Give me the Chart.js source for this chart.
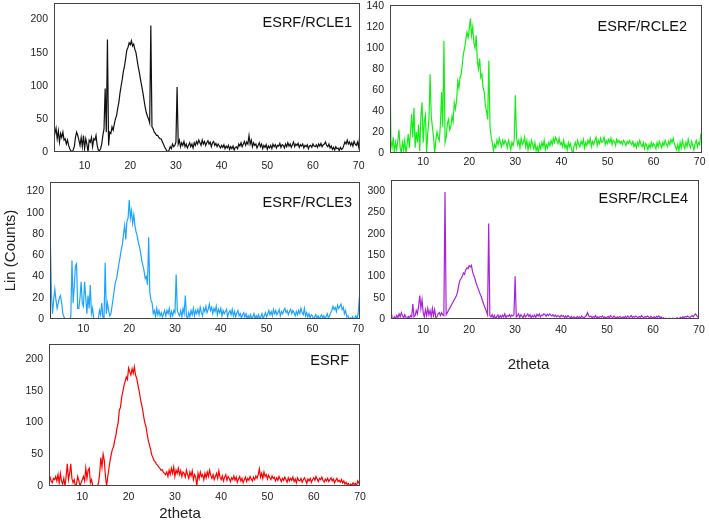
<!DOCTYPE html>
<html>
<head>
<meta charset="utf-8">
<script src="https://cdn.jsdelivr.net/npm/chart.js@4.4.1/dist/chart.umd.min.js"></script>
<style>
  html, body { margin: 0; padding: 0; background: #fff; overflow: hidden; }
  #wrap { position: relative; width: 709px; height: 520px; }
  #wrap canvas { position: absolute; }
</style>
</head>
<body>
<div id="wrap">
  <canvas id="rcle1" width="365" height="172" style="left:0;top:0"></canvas>
  <canvas id="rcle2" width="351" height="172" style="left:358px;top:0"></canvas>
  <canvas id="rcle3" width="365" height="165" style="left:0;top:172px"></canvas>
  <canvas id="rcle4" width="351" height="202" style="left:358px;top:172px"></canvas>
  <canvas id="esrf" width="372" height="190" style="left:0;top:335px"></canvas>
</div>
<script>
'use strict';

const thetaStart = 2;
const thetaStep = 0.25;
const xTicks = [10, 20, 30, 40, 50, 60, 70];

const rcle1Ticks = [0, 50, 100, 150, 200];
const rcle2Ticks = [0, 20, 40, 60, 80, 100, 120, 140];
const rcle3Ticks = [0, 20, 40, 60, 80, 100, 120];
const rcle4Ticks = [0, 50, 100, 150, 200, 250, 300];
const esrfTicks = [0, 50, 100, 150, 200];

// one row = 1 degree (x.00, x.25, x.50, x.75)
const rcle1Counts = [
    35, 35, 35, 35,  35, 35, 28, 36,  20, 32, 15, 28,  22, 30, 18, 20,  12, 18, 10, 5,       // 2-6
    2, 0, 3, 8,  22, 30, 25, 18,  10, 22, 8, 25,  5, 20, 12, 0,  18, 15, 22, 8,              // 7-11
    20, 18, 25, 10,  3, 2, 5, 12,  25, 35, 96, 30,  170, 10, 30, 28,  38, 33, 42, 50,        // 12-16
    55, 66, 75, 89,  100, 110, 122, 130,  142, 154, 158, 165,  162, 168, 160, 163,  155, 150, 139, 128, // 17-21
    120, 109, 100, 90,  79, 68, 60, 54,  50, 44, 191, 38,  35, 30, 28, 25,  25, 22, 20, 20,  // 22-26
    16, 12, 8, 5,  2, 0, 3, 8,  5, 12, 8, 10,  15, 98, 12, 18,  8, 14, 10, 16,               // 27-31
    8, 12, 6, 10,  14, 8, 12, 6,  14, 10, 16, 12,  18, 14, 10, 18,  12, 16, 10, 14,          // 32-36
    17, 12, 15, 8,  14, 16, 10, 13,  8, 12, 9, 6,  10, 7, 11, 5,  9, 6, 10, 4,               // 37-41
    8, 5, 9, 3,  7, 8, 5, 12,  9, 14, 8, 12,  16, 10, 15, 12,  25, 12, 18, 8,                // 42-46
    14, 10, 12, 6,  10, 14, 8, 12,  5, 10, 7, 11,  4, 9, 6, 10,  5, 12, 8, 11,               // 47-51
    6, 10, 9, 13,  7, 11, 10, 6,  12, 8, 14, 9,  12, 7, 11, 15,  8, 12, 10, 13,              // 52-56
    7, 11, 9, 12,  6, 10, 8, 11,  5, 9, 10, 7,  12, 9, 8, 11,  7, 12, 9, 13,                 // 57-61
    8, 11, 12, 15,  10, 8, 12, 6,  9, 4, 7, 3,  8, 5, 6, 2,  7, 4, 5, 10,                    // 62-66
    15, 12, 18, 12,  15, 10, 14, 9,  16, 12, 10, 15,  8, 25, 25, 25                          // 67-70
];

const rcle2Counts = [
    98, 98, 98, 98,  12, 5, 15, 0,  10, 3, 12, 22,  5, 0, 10, 3,  12, 0, 8, 18,              // 2-6
    5, 20, 37, 15,  43, 5, 20, 10,  27, 2, 35, 48,  10, 30, 36, 0,  20, 32, 75, 35,          // 7-11
    25, 15, 0, 12,  20, 15, 12, 28,  58, 25, 107, 10,  15, 28, 32, 22,  25, 35, 30, 48,      // 12-16
    42, 50, 68, 62,  72, 75, 85, 95,  100, 108, 115, 110,  118, 128, 112, 120,  105, 100, 112, 88, // 17-21
    80, 90, 72, 75,  62, 58, 45, 40,  32, 88, 25, 15,  10, 2, 8, 5,  12, 8, 14, 10,          // 22-26
    6, 12, 8, 12,  10, 5, 12, 8,  3, 10, 7, 12,  55, 15, 8, 12,  5, 14, 8, 10,               // 27-31
    15, 6, 12, 3,  10, 5, 12, 8,  4, 10, 2, 6,  0, 8, 4, 10,  6, 12, 3, 8,                   // 32-36
    5, 10, 7, 12,  8, 14, 10, 15,  12, 9, 14, 8,  10, 6, 12, 5,  8, 3, 10, 6,                // 37-41
    9, 2, 0, 7,  10, 5, 12, 8,  6, 11, 8, 13,  5, 10, 7, 12,  9, 14, 6, 11,                  // 42-46
    8, 12, 15, 7,  12, 9, 14, 10,  11, 15, 8, 12,  9, 13, 10, 14,  8, 12, 11, 7,             // 47-51
    13, 10, 12, 9,  11, 8, 12, 10,  7, 11, 9, 12,  10, 8, 11, 6,  9, 5, 10, 7,               // 52-56
    12, 8, 6, 10,  4, 9, 7, 3,  8, 5, 10, 6,  9, 7, 4, 10,  6, 11, 8, 5,                     // 57-61
    10, 7, 12, 9,  6, 11, 8, 13,  10, 14, 9, 6,  3, 8, 2, 10,  5, 12, 7, 4,                  // 62-66
    10, 6, 13, 8,  5, 11, 7, 3,  9, 12, 6, 10,  8, 18, 18, 18                                // 67-70
];

const rcle3Counts = [
    80, 80, 80, 80,  25, 5, 18, 28,  18, 10, 15, 20,  22, 15, 5, 2,  0, 0, 0, 0,             // 2-6
    0, 2, 55, 15,  30, 50, 52, 10,  10, 20, 35, 15,  12, 35, 20, 5,  22, 10, 32, 5,          // 7-11
    10, 0, 0, 0,  0, 0, 8, 4,  15, 2, 0, 53,  5, 15, 8, 3,  5, 12, 20, 28,                   // 12-16
    35, 38, 45, 52,  58, 65, 70, 80,  88, 75, 92, 95,  112, 95, 102, 90,  98, 88, 82, 78,    // 17-21
    72, 68, 62, 55,  50, 45, 38, 40,  32, 77, 25, 18,  15, 5, 8, 2,  10, 4, 8, 3,            // 22-26
    6, 2, 5, 8,  3, 8, 5, 10,  2, 7, 3, 8,  6, 42, 8, 5,  3, 8, 2, 10,                       // 27-31
    5, 22, 3, 0,  6, 2, 8, 4,  10, 3, 8, 5,  9, 4, 11, 6,  3, 10, 7, 12,                     // 32-36
    6, 9, 14, 8,  11, 5, 10, 7,  12, 4, 9, 6,  10, 3, 8, 5,  7, 9, 2, 6,                     // 37-41
    8, 4, 9, 3,  7, 2, 6, 8,  3, 5, 1, 4,  6, 2, 5, 0,  3, 1, 4, 0,                          // 42-46
    2, 5, 0, 3,  1, 4, 0, 2,  5, 0, 3, 6,  2, 5, 8, 4,  7, 3, 9, 5,                          // 47-51
    8, 4, 6, 9,  3, 7, 5, 8,  10, 6, 8, 4,  7, 9, 5, 8,  6, 3, 7, 4,                         // 52-56
    8, 5, 10, 6,  4, 10, 3, 6,  2, 5, 1, 4,  3, 0, 2, 4,  1, 3, 0, 2,                        // 57-61
    4, 1, 3, 0,  2, 5, 1, 3,  6, 8, 12, 9,  11, 7, 13, 10,  12, 14, 9, 11,                   // 62-66
    5, 8, 2, 3,  0, 1, 0, 2,  0, 1, 3, 0,  5, 20, 20, 20                                     // 67-70
];

const rcle4Counts = [
    18, 18, 18, 18,  20, 2, 0, 5,  0, 8, 3, 12,  5, 15, 8, 2,  10, 4, 0, 6,                  // 2-6
    2, 8, 5, 35,  5, 8, 20, 12,  30, 55, 25, 45,  15, 5, 22, 8,  25, 10, 20, 5,              // 7-11
    25, 8, 22, 3,  5, 12, 15, 8,  15, 10, 8, 298,  10, 15, 20, 25,  30, 35, 40, 45,          // 12-16
    50, 55, 65, 80,  91, 95, 100, 108,  105, 115, 120, 118,  125, 122, 126, 110,  103, 95, 85, 77, // 17-21
    70, 62, 56, 48,  40, 32, 25, 18,  10, 224, 8, 5,  10, 3, 8, 0,  6, 10, 2, 8,             // 22-26
    4, 9, 5, 12,  3, 8, 6, 10,  5, 9, 7, 11,  100, 5, 8, 12,  4, 10, 6, 3,                   // 27-31
    11, 5, 8, 12,  6, 10, 3, 8,  5, 9, 4, 11,  7, 12, 5, 9,  8, 12, 10, 6,                   // 32-36
    11, 8, 12, 9,  7, 10, 6, 9,  5, 8, 7, 4,  9, 6, 8, 3,  7, 4, 8, 5,                       // 37-41
    3, 6, 2, 5,  4, 2, 6, 3,  5, 3, 7, 4,  2, 6, 8, 15,  8, 5, 7, 3,                         // 42-46
    6, 4, 8, 2,  5, 3, 6, 4,  7, 3, 5, 2,  4, 6, 2, 8,  5, 3, 7, 4,                          // 47-51
    2, 5, 3, 6,  4, 2, 5, 3,  6, 3, 7, 4,  5, 8, 3, 6,  4, 7, 5, 3,                          // 52-56
    6, 4, 8, 5,  3, 6, 4, 7,  5, 2, 6, 4,  3, 5, 2, 6,  4, 7, 3, 5,                          // 57-61
    1, 3, 0, 2,  1, 0, 2, 1,  0, 2, 1, 0,  1, 3, 0, 2,  4, 2, 5, 3,                          // 62-66
    6, 4, 7, 5,  3, 6, 8, 5,  9, 12, 8, 5,  2, 2, 2, 2                                       // 67-70
];

const esrfCounts = [
    15, 15, 15, 15,  15, 8, 5, 12,  10, 15, 8, 18,  5, 20, 8, 3,  12, 0, 15, 35,             // 2-6
    10, 20, 35, 12,  5, 10, 0, 3,  15, 8, 0, 5,  10, 15, 8, 28,  12, 25, 28, 5,              // 7-11
    10, 0, 0, 0,  0, 0, 5, 20,  45, 30, 50, 40,  15, 0, 15, 28,  40, 50, 58, 62,             // 12-16
    72, 80, 92, 100,  120, 124, 140, 149,  158, 165, 172, 168,  186, 180, 175, 185,  178, 188, 175, 170, // 17-21
    160, 151, 140, 130,  122, 110, 100, 94,  82, 72, 65, 58,  49, 45, 40, 38,  35, 33, 30, 28, // 22-26
    25, 26, 22, 20,  18, 22, 15, 25,  18, 28, 20, 30,  15, 25, 20, 28,  18, 24, 15, 22,      // 27-31
    20, 14, 25, 18,  12, 22, 16, 24,  10, 18, 14, 0,  20, 12, 22, 15,  18, 10, 20, 13,       // 32-36
    22, 15, 25, 17,  12, 18, 10, 15,  20, 12, 24, 14,  10, 16, 8, 14,  18, 9, 15, 12,        // 37-41
    7, 13, 10, 16,  9, 14, 6, 11,  15, 8, 12, 5,  10, 14, 7, 12,  9, 15, 11, 8,              // 42-46
    14, 10, 16, 12,  18, 27, 14, 20,  12, 22, 15, 18,  11, 17, 13, 10,  16, 12, 14, 8,       // 47-51
    13, 9, 15, 11,  7, 12, 9, 14,  10, 6, 13, 8,  12, 9, 14, 7,  11, 5, 13, 9,               // 52-56
    8, 12, 6, 10,  13, 9, 4, 11,  8, 12, 6, 10,  13, 9, 15, 11,  7, 12, 10, 14,              // 57-61
    9, 6, 11, 8,  12, 7, 10, 13,  8, 11, 5, 9,  12, 7, 9, 6,  10, 5, 8, 3,                   // 62-66
    6, 2, 4, 0,  3, 1, 5, 2,  4, 0, 8, 5,  0, 0, 0, 0                                        // 67-70
];

const FONT = "'Liberation Sans', Arial, sans-serif";
const TEXT_COLOR = '#222';

function toPoints(counts) {
    return counts.map((y, i) => ({ x: thetaStart + i * thetaStep, y: y }));
}

// sample name in the upper right corner of the plot
const panelLabel = {
    id: 'panelLabel',
    afterDraw(chart, args, opts) {
        const { ctx, chartArea } = chart;
        ctx.save();
        ctx.font = '14.5px ' + FONT;
        ctx.fillStyle = '#111';
        ctx.textAlign = 'right';
        ctx.textBaseline = 'alphabetic';
        ctx.fillText(opts.text, chartArea.right - opts.right, chartArea.top + opts.baseline);
        ctx.restore();
    }
};

// box round the plot area
const frame = {
    id: 'frame',
    afterDatasetsDraw(chart) {
        const { ctx, chartArea } = chart;
        ctx.save();
        ctx.strokeStyle = '#444';
        ctx.lineWidth = 1;
        ctx.strokeRect(Math.round(chartArea.left) + 0.5, Math.round(chartArea.top) + 0.5,
            Math.round(chartArea.width) - 1, Math.round(chartArea.height) - 1);
        ctx.restore();
    }
};

function makePanel(p) {
    return new Chart(document.getElementById(p.id), {
        type: 'line',
        data: {
            datasets: [{
                data: toPoints(p.counts),
                borderColor: p.color,
                borderWidth: 1.2,
                pointRadius: 0,
                tension: 0,
                fill: false
            }]
        },
        options: {
            responsive: false,
            animation: false,
            events: [],
            layout: { padding: p.padding },
            plugins: {
                legend: { display: false },
                tooltip: { enabled: false },
                title: p.xTitle ? {
                    display: true,
                    text: p.xTitle,
                    position: 'bottom',
                    color: TEXT_COLOR,
                    font: { family: FONT, size: 15, weight: 'normal' },
                    padding: p.xTitlePad
                } : { display: false },
                panelLabel: p.label
            },
            scales: {
                x: {
                    type: 'linear',
                    min: p.xMin,
                    max: p.xMax,
                    grid: { display: false, drawTicks: false },
                    border: { display: false },
                    ticks: {
                        color: TEXT_COLOR,
                        font: { family: FONT, size: 10.5 },
                        padding: p.xTickPad,
                        maxRotation: 0
                    },
                    afterBuildTicks: axis => { axis.ticks = xTicks.map(v => ({ value: v })); },
                    afterFit: axis => {
                        axis.height = p.xAxisHeight;
                        axis.paddingLeft = 0;
                        axis.paddingRight = 0;
                    }
                },
                y: {
                    min: 0,
                    max: p.yMax,
                    grid: { display: false, drawTicks: false },
                    border: { display: false },
                    ticks: {
                        color: TEXT_COLOR,
                        font: { family: FONT, size: 10.5 },
                        padding: 6
                    },
                    title: p.yTitle ? {
                        display: true,
                        text: p.yTitle,
                        color: TEXT_COLOR,
                        font: { family: FONT, size: 15 },
                        padding: { top: 2, bottom: 0 }
                    } : { display: false },
                    afterBuildTicks: axis => { axis.ticks = p.yTicks.map(v => ({ value: v })); },
                    afterFit: axis => {
                        axis.width = p.yAxisWidth;
                        axis.paddingTop = 0;
                        axis.paddingBottom = 0;
                    }
                }
            }
        },
        plugins: [panelLabel, frame]
    });
}

const panels = [
    { id: 'rcle1', counts: rcle1Counts, color: '#111111', xMin: 3.3, xMax: 70.3, yMax: 225, yTicks: rcle1Ticks,
      yAxisWidth: 54, xAxisHeight: 20, xTickPad: 8, padding: { top: 3, right: 5, left: 0, bottom: 0 },
      label: { text: 'ESRF/RCLE1', right: 8, baseline: 23.5 } },
    { id: 'rcle2', counts: rcle2Counts, color: '#14ee14', xMin: 2.8, xMax: 70.5, yMax: 141, yTicks: rcle2Ticks,
      yAxisWidth: 32, xAxisHeight: 19, xTickPad: 3, padding: { top: 5, right: 7, left: 0, bottom: 0 },
      label: { text: 'ESRF/RCLE2', right: 15, baseline: 26 } },
    { id: 'rcle3', counts: rcle3Counts, color: '#1ea4ff', xMin: 2.7, xMax: 70.4, yMax: 129, yTicks: rcle3Ticks,
      yAxisWidth: 50, xAxisHeight: 18, xTickPad: 4, padding: { top: 10, right: 5, left: 0, bottom: 0 },
      label: { text: 'ESRF/RCLE3', right: 8, baseline: 24.5 }, yTitle: 'Lin (Counts)' },
    { id: 'rcle4', counts: rcle4Counts, color: '#a822dc', xMin: 3.0, xMax: 70, yMax: 326, yTicks: rcle4Ticks,
      yAxisWidth: 33, xAxisHeight: 20, xTickPad: 5, padding: { top: 8, right: 10, left: 0, bottom: 0 },
      label: { text: 'ESRF/RCLE4', right: 11, baseline: 22.5 },
      xTitle: '2theta', xTitlePad: { top: 17, bottom: 0 } },
    { id: 'esrf', counts: esrfCounts, color: '#ff0000', xMin: 2.8, xMax: 70, yMax: 224, yTicks: esrfTicks,
      yAxisWidth: 49, xAxisHeight: 18, xTickPad: 5, padding: { top: 9, right: 12, left: 0, bottom: 0 },
      label: { text: 'ESRF', right: 11, baseline: 21 },
      xTitle: '2theta', xTitlePad: { top: 1, bottom: 2 } }
];

panels.forEach(makePanel);
</script>
</body>
</html>
